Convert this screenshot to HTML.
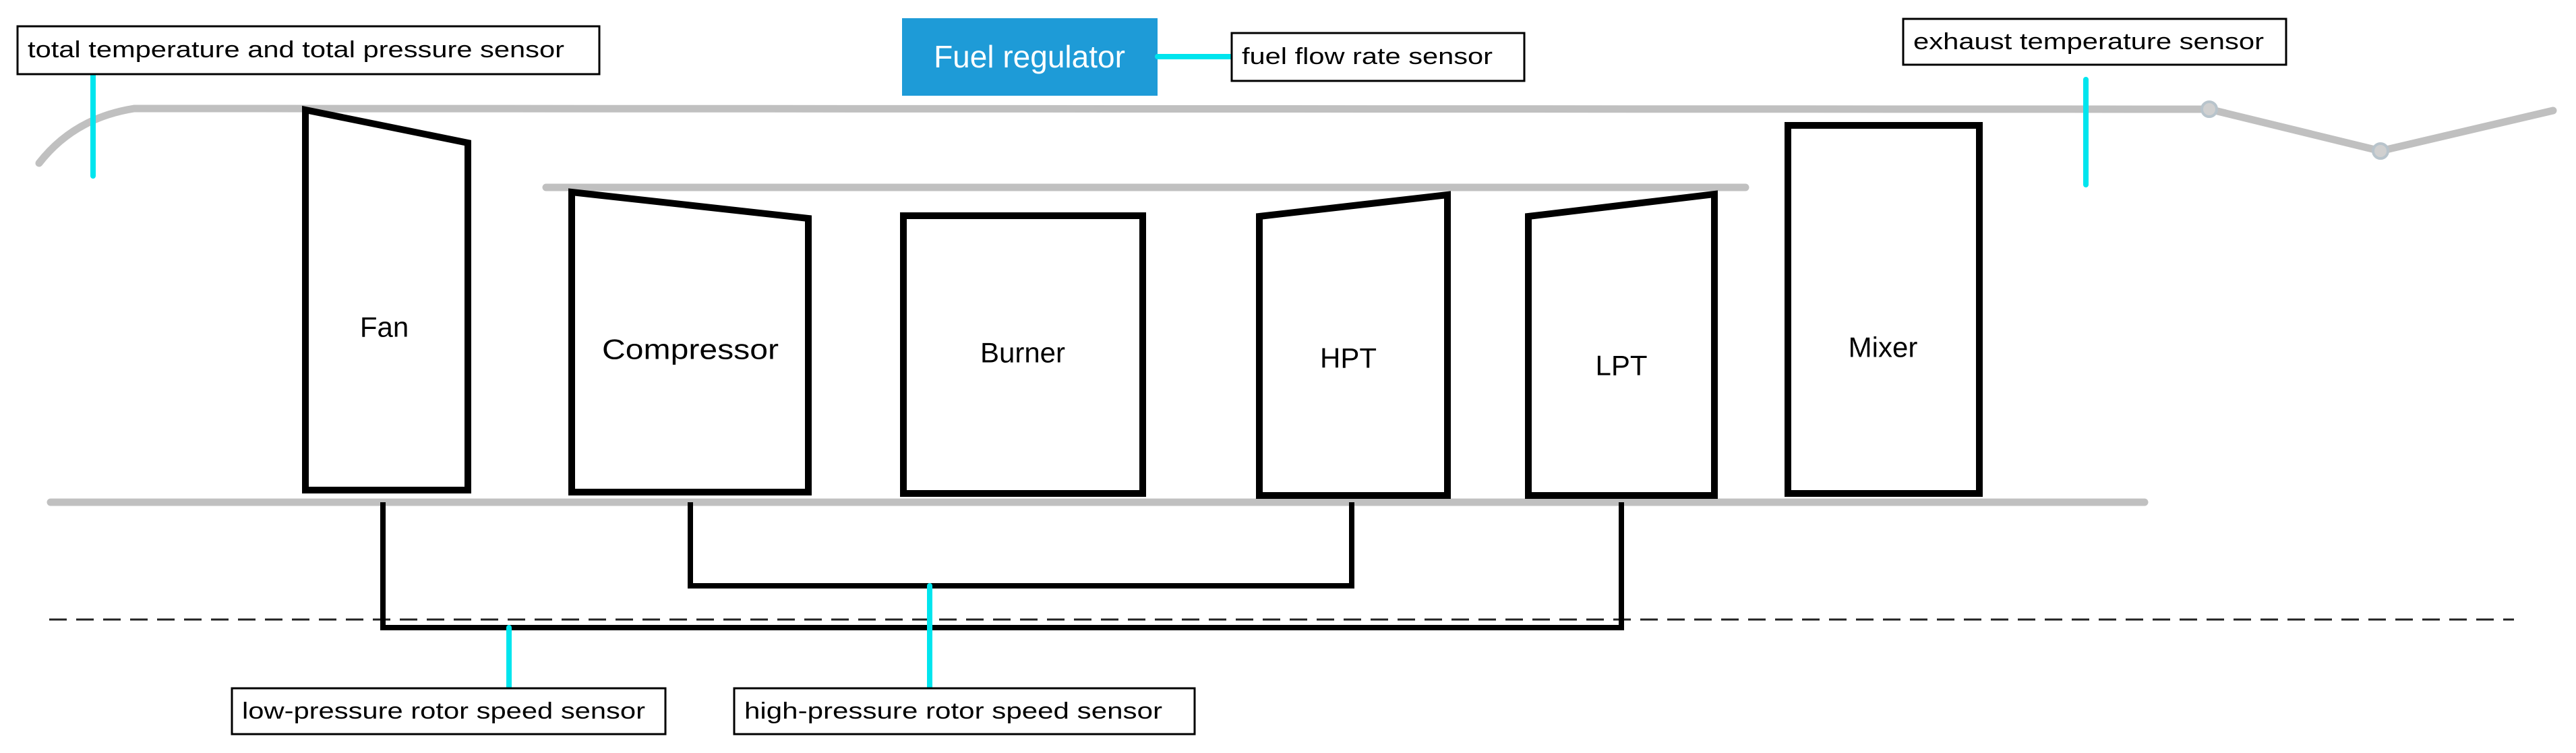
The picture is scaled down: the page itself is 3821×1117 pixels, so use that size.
<!DOCTYPE html>
<html><head><meta charset="utf-8"><style>html,body{margin:0;padding:0;background:#fff}svg{display:block}</style></head>
<body>
<svg width="3821" height="1117" viewBox="0 0 3821 1117" xmlns="http://www.w3.org/2000/svg" font-family="Liberation Sans, Arial, sans-serif">
<!-- gray casing lines -->
<g stroke="#c0c0c0" stroke-width="11" fill="none" stroke-linecap="round">
<path d="M58 242 Q110 175 199 161 L3277 162 L3531 224 L3787 164"/>
<line x1="810" y1="278" x2="2589" y2="278"/>
<line x1="75" y1="745" x2="3181" y2="745"/>
</g>
<g fill="#c8c8c8" stroke="#b8c4cc" stroke-width="4"><circle cx="3277" cy="162" r="11" fill="#d0d0d0"/><circle cx="3531" cy="224" r="11" fill="#d0d0d0"/></g>
<!-- dashed axis -->
<line x1="73" y1="919" x2="3729" y2="919" stroke="#222" stroke-width="3" stroke-dasharray="26 14"/>
<!-- shafts -->
<g stroke="#000" stroke-width="8" fill="none">
<polyline points="568,745 568,931 2405,931 2405,745"/>
<polyline points="1024,745 1024,869 2005,869 2005,745"/>
</g>
<!-- components -->
<g stroke="#000" stroke-width="10" fill="#fff" stroke-linejoin="miter">
<polygon points="453,163 694,212 694,727 453,727"/>
<polygon points="848,285 1199,324 1199,730 848,730"/>
<rect x="1340" y="320" width="355" height="412"/>
<polygon points="1868,321 2147,289 2147,735 1868,735"/>
<polygon points="2267,321 2543,288 2543,735 2267,735"/>
<rect x="2652" y="186" width="284" height="546"/>
</g>
<g font-size="42" text-anchor="middle" dominant-baseline="central" fill="#000">
<text x="570" y="485">Fan</text>
<text x="1024" y="518" textLength="262" lengthAdjust="spacingAndGlyphs">Compressor</text>
<text x="1517" y="523">Burner</text>
<text x="2000" y="531">HPT</text>
<text x="2405" y="542">LPT</text>
<text x="2793" y="515">Mixer</text>
</g>
<!-- fuel regulator -->
<rect x="1338" y="27" width="379" height="115" fill="#1e9bd7"/>
<text x="1527" y="84" font-size="46" fill="#fff" text-anchor="middle" dominant-baseline="central">Fuel regulator</text>
<!-- cyan sensor lines -->
<g stroke="#00e5ee" stroke-width="8" stroke-linecap="round">
<line x1="1717" y1="84" x2="1829" y2="84"/>
<line x1="138" y1="110" x2="138" y2="261"/>
<line x1="3094" y1="118" x2="3094" y2="274"/>
<line x1="755" y1="931" x2="755" y2="1019"/>
<line x1="1379" y1="869" x2="1379" y2="1021"/>
</g>
<!-- label boxes -->
<g fill="#fff" stroke="#000" stroke-width="3">
<rect x="26" y="39" width="863" height="71"/>
<rect x="1827" y="49" width="434" height="71"/>
<rect x="2823" y="28" width="568" height="68"/>
<rect x="344" y="1021" width="643" height="68"/>
<rect x="1089" y="1021" width="683" height="68"/>
</g>
<g font-size="34" fill="#000" dominant-baseline="central">
<text x="41" y="74" textLength="796" lengthAdjust="spacingAndGlyphs">total temperature and total pressure sensor</text>
<text x="1842" y="84" textLength="372" lengthAdjust="spacingAndGlyphs">fuel flow rate sensor</text>
<text x="2838" y="62" textLength="520" lengthAdjust="spacingAndGlyphs">exhaust temperature sensor</text>
<text x="359" y="1055" textLength="598" lengthAdjust="spacingAndGlyphs">low-pressure rotor speed sensor</text>
<text x="1104" y="1055" textLength="620" lengthAdjust="spacingAndGlyphs">high-pressure rotor speed sensor</text>
</g>
</svg>
</body></html>
